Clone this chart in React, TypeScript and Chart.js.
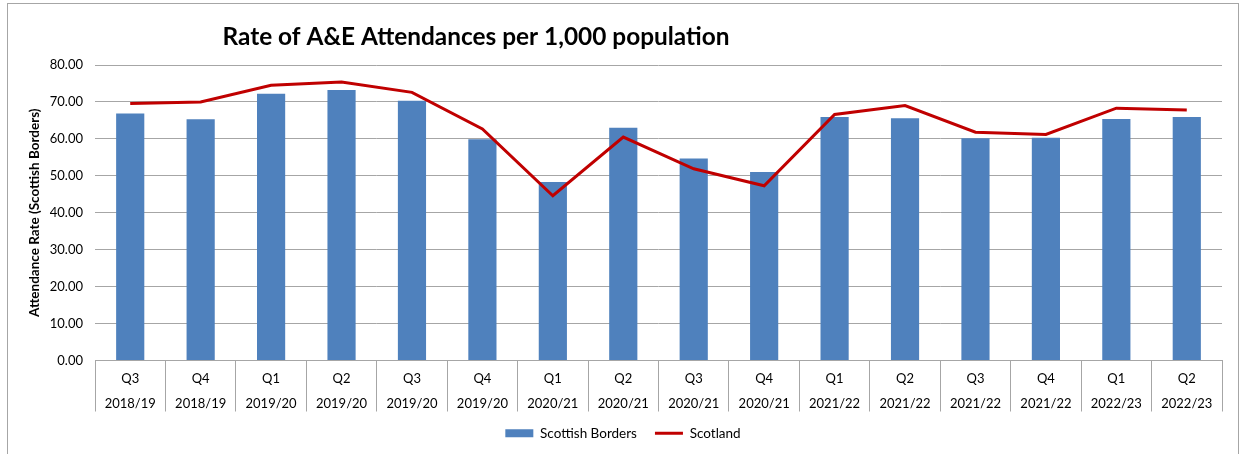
import React, { useEffect, useRef } from "react";
import { Chart, registerables } from "chart.js";

Chart.register(...registerables);

const quarters = ["Q3", "Q4", "Q1", "Q2", "Q3", "Q4", "Q1", "Q2", "Q3", "Q4", "Q1", "Q2", "Q3", "Q4", "Q1", "Q2"];
const years = ["2018/19", "2018/19", "2019/20", "2019/20", "2019/20", "2019/20", "2020/21", "2020/21", "2020/21", "2020/21", "2021/22", "2021/22", "2021/22", "2021/22", "2022/23", "2022/23"];
const scottishBorders = [66.9, 65.3, 72.2, 73.2, 70.3, 59.9, 48.3, 63.0, 54.7, 51.0, 65.9, 65.6, 60.2, 60.3, 65.4, 65.9];
const scotland = [69.6, 70.0, 74.5, 75.4, 72.6, 62.7, 44.6, 60.5, 51.9, 47.3, 66.6, 69.0, 61.8, 61.2, 68.3, 67.8];
const titleText = "Rate of A&E Attendances per 1,000 population";
const yTitle = "Attendance Rate (Scottish Borders)";

const FONT = "Lato";

export default function App() {
  const ref = useRef<HTMLCanvasElement | null>(null);
  useEffect(() => {
    if (!ref.current) return;
    const titlePlugin = {
      id: "customTitle",
      afterDraw(chart: any) {
        const ctx = chart.ctx;
        ctx.save();
        ctx.font = `bold 24.4px ${FONT}`;
        ctx.fillStyle = "#000";
        ctx.textAlign = "center";
        ctx.textBaseline = "middle";
        ctx.fillText(titleText, 468, 33);
        ctx.restore();
      },
    };
    const chart = new Chart(ref.current, {
      type: "bar",
      data: {
        labels: quarters.map((q, i) => [q, years[i]]),
        datasets: [
          {
            type: "bar",
            label: "Scottish Borders",
            data: scottishBorders,
            backgroundColor: "#4F81BD",
            borderWidth: 0,
            barPercentage: 0.4,
            categoryPercentage: 1,
            order: 1,
          } as any,
          {
            type: "line",
            label: "Scotland",
            data: scotland,
            borderColor: "#C00000",
            backgroundColor: "#C00000",
            borderWidth: 3,
            pointRadius: 0,
            tension: 0,
            order: 0,
          } as any,
        ],
      },
      options: {
        animation: false,
        responsive: false,
        maintainAspectRatio: false,
        layout: { padding: { left: 0, right: 0, top: 61, bottom: 14 } },
        plugins: {
          title: { display: false },
          tooltip: { enabled: false },
          legend: {
            position: "bottom",
            reverse: true,
            labels: {
              usePointStyle: true,
              pointStyleWidth: 28,
              boxHeight: 8,
              color: "#000",
              font: { family: FONT, size: 13.5 },
              padding: 18,
              generateLabels: (c: any) =>
                (Chart.defaults.plugins.legend.labels as any).generateLabels(c).map((l: any) => ({
                  ...l,
                  pointStyle: l.datasetIndex === 1 ? "line" : "rect",
                  lineWidth: l.datasetIndex === 1 ? 3 : 0,
                  strokeStyle: l.datasetIndex === 1 ? "#C00000" : "#4F81BD",
                  fillStyle: l.datasetIndex === 1 ? "#C00000" : "#4F81BD",
                })),
            },
          },
        },
        scales: {
          x: {
            offset: true,
            grid: {
              offset: true,
              drawOnChartArea: false,
              drawTicks: true,
              tickLength: 51,
              color: "#a6a6a6",
            },
            border: { display: true, color: "#a6a6a6" },
            ticks: {
              autoSkip: false,
              maxRotation: 0,
              minRotation: 0,
              padding: -45.5,
              color: "#000",
              font: { family: FONT, size: 13, lineHeight: "25px" } as any,
            },
            afterFit(scale: any) {
              scale.height = 48;
            },
          },
          y: {
            min: 0,
            max: 80,
            grid: { color: "#a6a6a6", drawTicks: false },
            border: { display: false },
            ticks: {
              stepSize: 10,
              padding: 12,
              color: "#000",
              font: { family: FONT, size: 13 },
              callback: (v: any) => Number(v).toFixed(2),
            },
            title: {
              display: true,
              text: yTitle,
              color: "#000",
              font: { family: FONT, size: 13.5, weight: "bold" },
              padding: { top: 19, bottom: 0 },
            },
            afterFit(scale: any) {
              scale.width = 87;
            },
          },
          yPad: {
            position: "right",
            display: true,
            grid: { display: false, drawTicks: false },
            border: { display: false },
            ticks: { display: false },
            afterFit(scale: any) {
              scale.width = 16;
            },
          } as any,
        },
      },
      plugins: [titlePlugin],
    });
    return () => chart.destroy();
  }, []);
  return (
    <div
      style={{
        position: "absolute",
        left: 7,
        top: 3,
        width: 1230,
        height: 460,
        border: "1px solid #a6a6a6",
        background: "#fff",
      }}
    >
      <canvas ref={ref} width={1230} height={460} style={{ display: "block" }} />
    </div>
  );
}
